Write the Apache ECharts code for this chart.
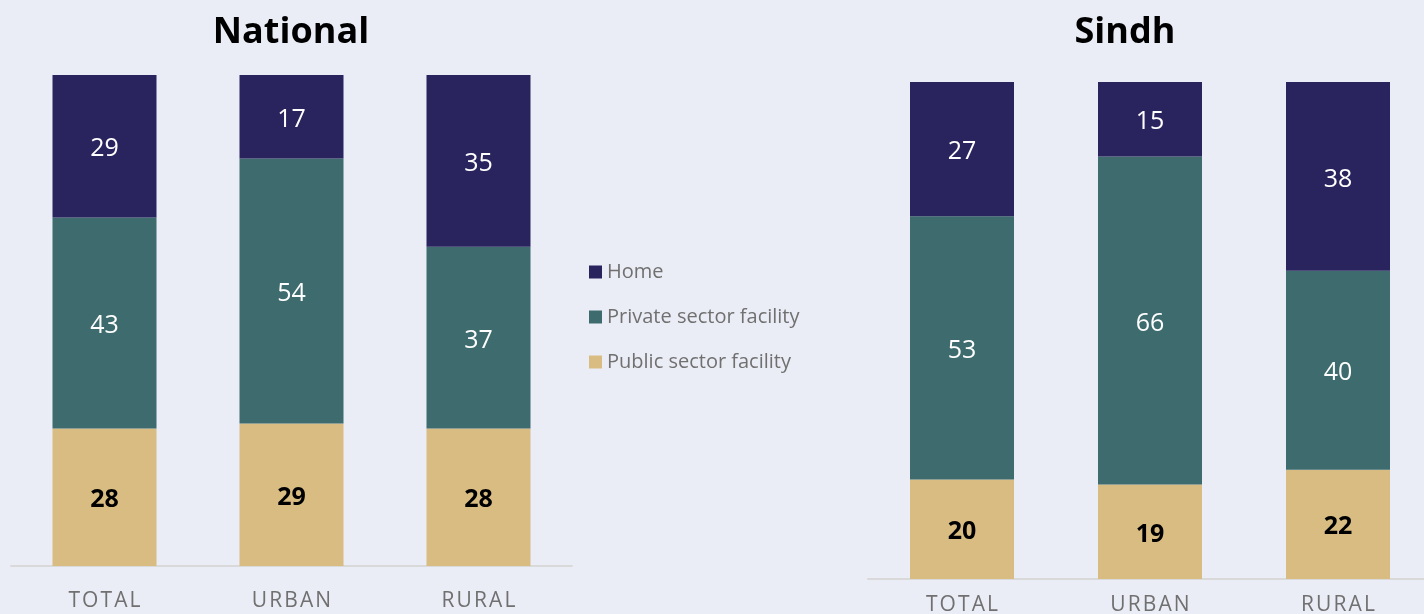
<!DOCTYPE html>
<html>
<head>
<meta charset="utf-8">
<script src="https://cdn.jsdelivr.net/npm/echarts@6/dist/echarts.min.js"></script>
<style>
  html, body { margin: 0; padding: 0; background: #EBEDF6; }
  #chart { width: 1424px; height: 614px; }
</style>
</head>
<body>
<div id="chart"></div>
<script>
// Place of delivery, % of births
const categories = ['TOTAL', 'URBAN', 'RURAL'];
const seriesNames = ['Home', 'Private sector facility', 'Public sector facility'];

const nationalHome = [29, 17, 35];
const nationalPrivate = [43, 54, 37];
const nationalPublic = [28, 29, 28];

const sindhHome = [27, 15, 38];
const sindhPrivate = [53, 66, 40];
const sindhPublic = [20, 19, 22];

const colors = {
  home: '#29235E',
  priv: '#3D6B6E',
  pub: '#D9BC82'
};

const FONT = '"Open Sans", "Noto Sans", sans-serif';

function spaced(s) {
  return s.split('').join('\u200A');
}

function makeSeries(gridIndex, home, priv, pub) {
  const stack = 's' + gridIndex;
  const base = {
    type: 'bar',
    stack: stack,
    xAxisIndex: gridIndex,
    yAxisIndex: gridIndex,
    barWidth: 104,
    emphasis: { disabled: true }
  };
  // Stacked bottom-up: public, private, home
  return [
    Object.assign({}, base, {
      name: seriesNames[2],
      data: pub,
      itemStyle: { color: colors.pub },
      label: { show: true, color: '#000', fontWeight: 'bold', fontSize: 25, fontFamily: FONT, offset: [0, 3] }
    }),
    Object.assign({}, base, {
      name: seriesNames[1],
      data: priv,
      itemStyle: { color: colors.priv },
      label: { show: true, color: '#fff', fontSize: 25, fontFamily: FONT, offset: [0, 3] }
    }),
    Object.assign({}, base, {
      name: seriesNames[0],
      data: home,
      itemStyle: { color: colors.home },
      label: { show: true, color: '#fff', fontSize: 25, fontFamily: FONT, offset: [0, 3] }
    })
  ];
}

function makeXAxis(gridIndex, labelMargin) {
  return {
    type: 'category',
    gridIndex: gridIndex,
    data: categories,
    axisLine: { lineStyle: { color: '#D9D9D9', width: 2 } },
    axisTick: { show: false },
    axisLabel: {
      color: '#707070',
      fontSize: 21,
      fontFamily: FONT,
      margin: labelMargin,
      formatter: spaced
    }
  };
}

function makeYAxis(gridIndex) {
  return {
    type: 'value',
    gridIndex: gridIndex,
    min: 0,
    max: 100,
    show: false,
    splitLine: { show: false }
  };
}

const chart = echarts.init(document.getElementById('chart'), null, { renderer: 'canvas' });

chart.setOption({
  backgroundColor: '#EBEDF6',
  animation: false,
  title: [
    {
      text: 'National',
      left: 286, top: 10,
      textAlign: 'center',
      textStyle: { fontSize: 36, fontWeight: 'bold', color: '#000', fontFamily: FONT }
    },
    {
      text: 'Sindh',
      left: 1120, top: 10,
      textAlign: 'center',
      textStyle: { fontSize: 36, fontWeight: 'bold', color: '#000', fontFamily: FONT }
    }
  ],
  legend: {
    orient: 'vertical',
    left: 584,
    top: 257,
    icon: 'rect',
    itemWidth: 13,
    itemHeight: 13,
    itemGap: 25,
    data: seriesNames,
    textStyle: { color: '#707070', fontSize: 20, fontFamily: FONT },
    selectedMode: false
  },
  grid: [
    { left: 11, top: 75, width: 561, height: 491, outerBoundsMode: 'none' },
    { left: 868, top: 82, width: 564, height: 497, outerBoundsMode: 'none' }
  ],
  xAxis: [makeXAxis(0, 25), makeXAxis(1, 16)],
  yAxis: [makeYAxis(0), makeYAxis(1)],
  series: [].concat(
    makeSeries(0, nationalHome, nationalPrivate, nationalPublic),
    makeSeries(1, sindhHome, sindhPrivate, sindhPublic)
  )
});
</script>
</body>
</html>
